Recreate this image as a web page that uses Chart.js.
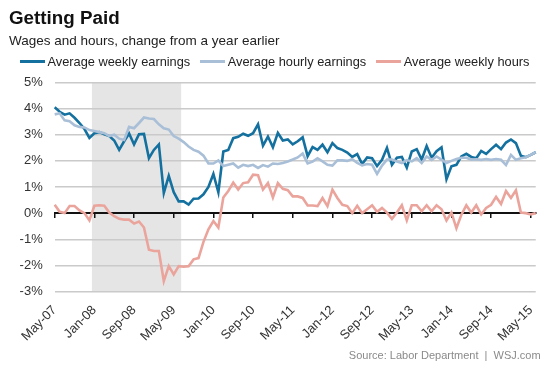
<!DOCTYPE html>
<html lang="en">
<head>
    <meta charset="UTF-8">
    <title>Getting Paid</title>
    <script src="https://cdn.jsdelivr.net/npm/chart.js"></script>
    <style>
        body { margin: 0; background: #fff; font-family: "Liberation Sans", Arial, sans-serif; }
        .wrap { position: relative; width: 553px; height: 369px; overflow: hidden; }
        #chart { position: absolute; left: 0; top: 0; }
        .title { position: absolute; left: 9px; top: 8.5px; font-size: 18.8px; font-weight: bold; line-height: 1; color: #111; }
        .subtitle { position: absolute; left: 9px; top: 33.6px; font-size: 13.5px; line-height: 1; color: #222; }
        .legend { position: absolute; left: 20px; top: 54.5px; display: flex; align-items: center; font-size: 12.8px; line-height: 13px; color: #222; }
        .legend .item { display: flex; align-items: center; margin-right: 10px; }
        .legend .sw { width: 25px; height: 3px; margin-right: 2.5px; }
        .source { position: absolute; right: 12.4px; top: 349.7px; font-size: 11px; line-height: 1; color: #8a8a8a; white-space: pre; }
    </style>
</head>
<body>
<div class="wrap">
    <canvas id="chart" width="553" height="369"></canvas>
    <div class="title">Getting Paid</div>
    <div class="subtitle">Wages and hours, change from a year earlier</div>
    <div class="legend" id="legend"></div>
    <div class="source">Source: Labor Department  |  WSJ.com</div>
</div>
<script>
    // monthly categories, May 2007 through June 2015
    const monthNames = ["Jan", "Feb", "Mar", "Apr", "May", "Jun", "Jul", "Aug", "Sep", "Oct", "Nov", "Dec"];
    const months = [];
    for (let y = 2007, m = 4; months.length < 98; m++) {
        if (m === 12) { m = 0; y++; }
        months.push(monthNames[m] + "-" + String(y).slice(2));
    }

    const tickLabels = ["May-07", "Jan-08", "Sep-08", "May-09", "Jan-10", "Sep-10", "May-11",
                        "Jan-12", "Sep-12", "May-13", "Jan-14", "Sep-14", "May-15"];
    const recession = ["Dec-07", "Jun-09"];

    // % change from a year earlier
    const weeklyEarnings = [
        4.05, 3.88, 3.77, 3.82, 3.65, 3.45, 3.22, 2.88, 3.06, 3.10,
        3.02, 2.95, 2.78, 2.42, 2.75, 3.05, 2.63, 3.02, 3.03, 2.10,
        2.42, 2.63, 0.77, 1.43, 0.80, 0.45, 0.45, 0.33, 0.55, 0.56,
        0.72, 1.00, 1.50, 0.80, 2.36, 2.42, 2.87, 2.92, 3.04, 2.96,
        3.06, 3.40, 2.58, 2.93, 2.52, 3.07, 2.78, 2.82, 2.63, 2.75,
        2.90, 2.18, 2.53, 2.42, 2.62, 2.33, 2.68, 2.49, 2.42, 2.32,
        2.15, 2.26, 1.88, 2.13, 2.10, 1.80, 2.04, 2.50, 1.85, 2.12,
        2.15, 1.74, 2.36, 2.45, 2.05, 2.57, 2.12, 2.37, 2.52, 1.30,
        1.79, 1.85, 2.17, 2.27, 2.15, 2.10, 2.38, 2.27, 2.45, 2.62,
        2.45, 2.70, 2.82, 2.68, 2.20, 2.14, 2.23, 2.33
    ];
    const hourlyEarnings = [
        3.78, 3.82, 3.55, 3.52, 3.36, 3.30, 3.28, 3.18, 3.14, 3.10,
        3.06, 2.95, 3.00, 2.85, 2.80, 3.30, 3.25, 3.45, 3.66, 3.62,
        3.60, 3.40, 3.25, 3.20, 2.95, 2.85, 2.72, 2.55, 2.42, 2.35,
        2.20, 1.90, 1.90, 2.02, 1.80, 1.85, 1.90, 1.74, 1.85, 1.80,
        1.85, 1.73, 1.84, 1.78, 1.90, 1.88, 1.92, 1.98, 2.05, 2.13,
        2.28, 1.90, 1.97, 2.10, 1.98, 1.85, 1.82, 2.02, 2.02, 2.00,
        2.06, 1.92, 1.83, 1.88, 1.85, 1.50, 1.82, 2.05, 2.05, 1.98,
        1.92, 2.03, 1.98, 2.10, 1.92, 2.17, 2.04, 2.17, 2.05, 1.92,
        2.00, 2.07, 2.12, 2.12, 2.05, 2.06, 2.04, 2.07, 2.04, 2.07,
        2.04, 1.84, 2.23, 2.04, 2.10, 2.14, 2.23, 2.33
    ];
    const weeklyHours = [
        0.32, 0.05, 0.00, 0.27, 0.27, 0.10, 0.00, -0.28, 0.28, 0.30,
        0.28, 0.02, -0.12, -0.22, -0.25, -0.25, -0.40, -0.32, -0.55, -1.40,
        -1.45, -1.45, -2.60, -2.03, -2.35, -2.03, -2.05, -2.03, -1.77, -1.72,
        -1.10, -0.62, -0.30, -0.55, 0.60, 0.85, 1.17, 0.90, 1.15, 1.18,
        1.47, 1.45, 0.90, 1.15, 0.60, 1.15, 0.93, 0.88, 0.64, 0.64,
        0.58, 0.29, 0.29, 0.27, 0.58, 0.27, 0.90, 0.58, 0.32, 0.27,
        0.00, 0.28, 0.00, 0.15, 0.30, 0.05, 0.20, 0.02, -0.22, 0.02,
        0.30, -0.28, 0.30, 0.30, 0.07, 0.30, 0.07, 0.30, 0.15, -0.28,
        0.02, -0.58, -0.06, 0.30, 0.02, 0.30, -0.05, 0.20, 0.32, 0.62,
        0.35, 0.85, 0.58, 0.87, 0.02, 0.00, -0.05, 0.00
    ];

    const series = [
        { label: "Average weekly earnings", data: weeklyEarnings, color: "#13709f", order: 1 },
        { label: "Average hourly earnings", data: hourlyEarnings, color: "#a8bfd7", order: 0 },
        { label: "Average weekly hours", data: weeklyHours, color: "#eba49c", order: 2 },
    ];

    // simple html legend, line swatch + text
    const legendEl = document.getElementById("legend");
    series.forEach(s => {
        const item = document.createElement("div");
        item.className = "item";
        item.innerHTML = '<span class="sw" style="background:' + s.color + '"></span><span>' + s.label + '</span>';
        legendEl.appendChild(item);
    });

    const keepLabelTicks = axis => {
        axis.ticks = axis.ticks.filter(t => tickLabels.includes(months[t.value]));
    };

    const recessionShade = {
        id: "recessionShade",
        beforeDraw(chart) {
            const { ctx, chartArea, scales } = chart;
            const x0 = scales.x.getPixelForValue(months.indexOf(recession[0]) + 0.5);
            const x1 = scales.x.getPixelForValue(months.indexOf(recession[1]) + 0.5);
            ctx.save();
            ctx.fillStyle = "#e5e5e5";
            ctx.fillRect(x0, chartArea.top, x1 - x0, chartArea.bottom - chartArea.top);
            ctx.restore();
        }
    };

    const font = { family: "'Liberation Sans', Arial, sans-serif", size: 13 };

    new Chart(document.getElementById("chart"), {
        type: "line",
        data: {
            labels: months,
            datasets: series.map(s => ({
                label: s.label,
                data: s.data,
                borderColor: s.color,
                backgroundColor: s.color,
                borderWidth: 2.6,
                pointRadius: 0,
                tension: 0,
                order: s.order,
                xAxisID: "x",
                yAxisID: "y",
            })),
        },
        options: {
            responsive: false,
            animation: false,
            layout: { padding: { top: 82.5, right: 17.2, left: 0, bottom: 0 } },
            plugins: {
                legend: { display: false },
                tooltip: { enabled: false },
            },
            scales: {
                // axis line at zero with small tick marks
                x: {
                    type: "category",
                    position: { y: 0 },
                    afterBuildTicks: keepLabelTicks,
                    ticks: { display: false, autoSkip: false },
                    grid: { drawOnChartArea: false, drawTicks: true, tickLength: 4, color: "#111", lineWidth: 1.5 },
                    border: { display: true, color: "#111", width: 2 },
                },
                // labels along the bottom
                x2: {
                    type: "category",
                    axis: "x",
                    position: "bottom",
                    afterBuildTicks: keepLabelTicks,
                    afterFit: s => { s.height = 77.5; },
                    ticks: { autoSkip: false, minRotation: 45, maxRotation: 45, padding: 11, color: "#333", font: font },
                    grid: { display: false, drawTicks: false },
                    border: { display: false },
                },
                y: {
                    min: -3,
                    max: 5,
                    afterFit: s => { s.width = 54.7; },
                    ticks: { stepSize: 1, padding: 12, color: "#333", font: font, callback: v => v + "%" },
                    grid: {
                        drawTicks: false,
                        lineWidth: 1.5,
                        color: c => (c.tick && c.tick.value === 0 ? "rgba(0,0,0,0)" : "#cacaca"),
                    },
                    border: { display: false },
                },
            },
        },
        plugins: [recessionShade],
    });
</script>
</body>
</html>
